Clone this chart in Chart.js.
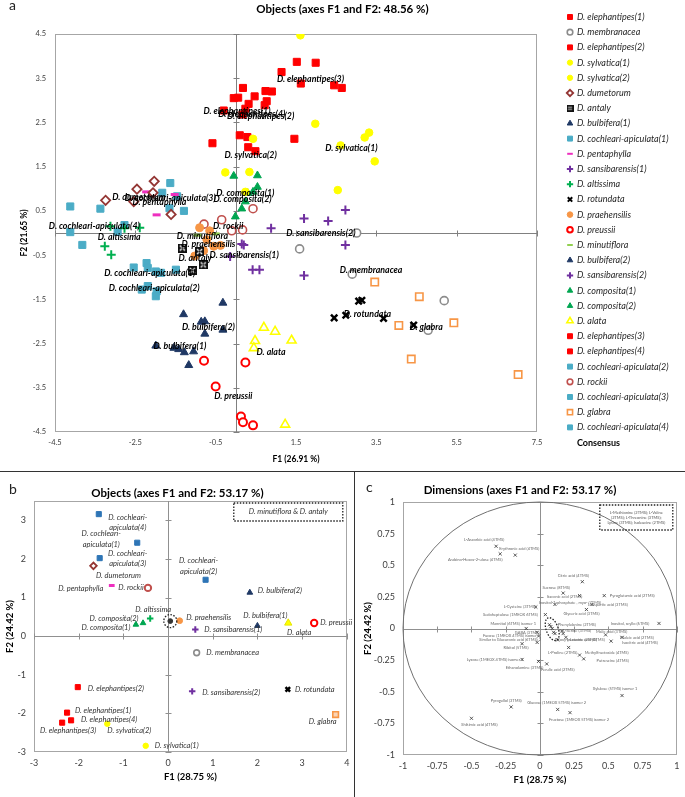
<!DOCTYPE html>
<html lang="en">
<head>
<meta charset="utf-8">
<title>Objects and dimensions, axes F1 and F2</title>
<script src="https://cdn.jsdelivr.net/npm/chart.js@4.4.1/dist/chart.umd.min.js"></script>
<style>
  html, body { margin: 0; padding: 0; background: #fff; }
  #page { position: relative; width: 685px; height: 797px; overflow: hidden; font-family: Lato, "Open Sans", sans-serif; }
  .panel { position: absolute; }
  .tag { position: absolute; font-size: 14px; color: #222; line-height: 16px; }
  .rule-h { position: absolute; left: 0; top: 471px; width: 685px; border-top: 1.5px solid #333; }
  .rule-v { position: absolute; left: 354px; top: 472px; height: 325px; border-left: 1.5px solid #333; }
</style>
</head>
<body>
<div id="page">
  <canvas id="chartA" class="panel" width="685" height="472" style="left:0;top:0"></canvas>
  <canvas id="chartB" class="panel" width="355" height="325" style="left:0;top:472px"></canvas>
  <canvas id="chartC" class="panel" width="330" height="325" style="left:355px;top:472px"></canvas>
  <div class="rule-h"></div>
  <div class="rule-v"></div>
  <div class="tag" style="left:9px;top:-3px">a</div>
  <div class="tag" style="left:9px;top:481px">b</div>
  <div class="tag" style="left:366px;top:479px">c</div>
</div>
<script>
(function () {
    "use strict";

    const FONT = 'Lato, "Open Sans", Arial, sans-serif';
    const H = Chart.helpers;

    // ---------- panel a: objects, axes F1 and F2 (48.56 %) ----------
    const aTicksF1 = [-4.5, -2.5, -0.5, 1.5, 3.5, 5.5, 7.5];
    const aTicksF2 = [-4.5, -3.5, -2.5, -1.5, -0.5, 0.5, 1.5, 2.5, 3.5, 4.5];

    const eleph1F1 = [-0.58, -0.30, -0.05, 0.06, 0.10, 0.24];
    const eleph1F2 = [2.03, 2.77, 3.05, 3.06, 2.21, 2.81];
    const membF1 = [3.01, 1.59, 2.90, 5.19, 4.79];
    const membF2 = [0.00, -0.36, -0.93, -1.53, -2.20];
    const eleph2F1 = [0.74, 0.90, 0.77, 0.72, 1.46, 0.49];
    const eleph2F2 = [3.21, 3.20, 2.98, 2.89, 2.13, 1.85];
    const sylv1F1 = [1.61, 1.98, 3.32, 3.21, 2.61, 3.46, 2.54];
    const sylv1F2 = [4.47, 2.47, 2.27, 2.16, 1.98, 1.62, 0.97];
    const sylv2F1 = [0.43, -0.26, 0.34, 0.24];
    const sylv2F2 = [2.13, 1.37, 1.38, 0.93];
    const dumetF1 = [-2.03, -2.46, -3.24, -2.06, -1.61, -2.54];
    const dumetF2 = [1.17, 0.99, 0.74, 0.91, 0.42, 0.71];
    const antalyF1 = [-1.33, -0.90, -0.81, -1.08];
    const antalyF2 = [-0.34, -0.42, -0.72, -0.85];
    const bulb1F1 = [-1.99, -1.54, -1.42, -1.28, -1.05, -1.17];
    const bulb1F2 = [-2.55, -2.60, -2.63, -2.70, -2.68, -2.99];
    const coch1F1 = [-2.54, -2.22, -2.19, -1.99, -1.86, -1.49];
    const coch1F2 = [-0.78, -0.68, -0.79, -0.87, -0.90, -0.83];
    const pentaF1 = [-2.23, -1.52, -1.97];
    const pentaF2 = [0.93, 0.87, 0.41];
    const sans1F1 = [0.15, 0.20, -0.14, 0.42, 0.59];
    const sans1F2 = [-0.25, -0.27, -0.53, -0.83, -0.83];
    const altisF1 = [-3.12, -2.77, -2.39, -3.26, -3.10];
    const altisF2 = [0.15, 0.11, 0.12, -0.30, -0.49];
    const rotunF1 = [3.06, 3.14, 2.45, 2.74, 3.68, 4.43];
    const rotunF2 = [-1.54, -1.52, -1.92, -1.86, -1.93, -2.08];
    const praehF1 = [-0.90, -0.65, -0.72, -0.55, -0.38, -1.02, -0.80];
    const praehF2 = [0.12, 0.05, -0.15, -0.30, -0.28, -0.52, -0.40];
    const preusF1 = [-0.79, 0.24, -0.50, 0.13, 0.18, 0.43];
    const preusF2 = [-2.89, -2.93, -3.47, -4.15, -4.28, -4.35];
    const minutF1 = [-0.95, -0.70, -0.50];
    const minutF2 = [-0.05, -0.12, -0.02];
    const bulb2F1 = [-0.32, -1.30, -0.86, -0.77, -0.77, -0.32];
    const bulb2F2 = [-1.58, -1.84, -2.01, -2.00, -2.28, -2.19];
    const sans2F1 = [2.73, 1.70, 2.30, 2.73, 1.70, 0.88];
    const sans2F2 = [0.52, 0.33, 0.27, -0.27, -0.96, 0.11];
    const comp1F1 = [-0.05, 0.54, 0.54, 0.43];
    const comp1F2 = [1.29, 1.30, 1.04, 0.93];
    const comp2F1 = [-0.01, 0.24, 0.30, 0.15];
    const comp2F2 = [0.37, 0.71, 0.90, 0.55];
    const alataF1 = [0.70, 0.98, 1.39, 0.48, 0.45, 1.23];
    const alataF2 = [-2.14, -2.23, -2.43, -2.44, -2.60, -4.33];
    const eleph3F1 = [1.52, 1.99, 1.14, 1.62, 2.45, 2.64];
    const eleph3F2 = [3.87, 3.85, 3.64, 3.38, 3.34, 3.28];
    const eleph4F1 = [0.18, 0.32, 0.17, 0.29, 0.31, 0.47];
    const eleph4F2 = [3.28, 2.92, 2.68, 2.17, 1.94, 3.09];
    const coch2F1 = [-2.19, -2.34, -1.97, -1.99];
    const coch2F2 = [-1.20, -1.28, -1.32, -1.43];
    const rockiF1 = [-0.79, -0.35, 0.43, -0.10, 0.17];
    const rockiF2 = [0.20, 0.30, 0.55, 0.05, 0.07];
    const coch3F1 = [-1.63, -1.83, -1.46, -1.65, -1.29];
    const coch3F2 = [1.13, 0.91, 0.83, 0.56, 0.50];
    const glabrF1 = [3.46, 4.57, 4.06, 5.43, 4.37, 7.03];
    const glabrF2 = [-1.11, -1.44, -2.09, -2.03, -2.85, -3.20];
    const coch4F1 = [-4.12, -3.37, -2.77, -2.94, -4.12, -3.82];
    const coch4F2 = [0.60, 0.55, 0.18, 0.03, 0.02, -0.27];

    // legend order
    const aNames = [
        "D. elephantipes(1)", "D. membranacea", "D. elephantipes(2)", "D. sylvatica(1)",
        "D. sylvatica(2)", "D. dumetorum", "D. antaly", "D. bulbifera(1)",
        "D. cochleari-apiculata(1)", "D. pentaphylla", "D. sansibarensis(1)", "D. altissima",
        "D. rotundata", "D. praehensilis", "D. preussii", "D. minutiflora",
        "D. bulbifera(2)", "D. sansibarensis(2)", "D. composita(1)", "D. composita(2)",
        "D. alata", "D. elephantipes(3)", "D. elephantipes(4)", "D. cochleari-apiculata(2)",
        "D. rockii", "D. cochleari-apiculata(3)", "D. glabra", "D. cochleari-apiculata(4)"
    ];
    const aScores = [
        [eleph1F1, eleph1F2], [membF1, membF2], [eleph2F1, eleph2F2], [sylv1F1, sylv1F2],
        [sylv2F1, sylv2F2], [dumetF1, dumetF2], [antalyF1, antalyF2], [bulb1F1, bulb1F2],
        [coch1F1, coch1F2], [pentaF1, pentaF2], [sans1F1, sans1F2], [altisF1, altisF2],
        [rotunF1, rotunF2], [praehF1, praehF2], [preusF1, preusF2], [minutF1, minutF2],
        [bulb2F1, bulb2F2], [sans2F1, sans2F2], [comp1F1, comp1F2], [comp2F1, comp2F2],
        [alataF1, alataF2], [eleph3F1, eleph3F2], [eleph4F1, eleph4F2], [coch2F1, coch2F2],
        [rockiF1, rockiF2], [coch3F1, coch3F2], [glabrF1, glabrF2], [coch4F1, coch4F2]
    ];

    // consensus positions (drawn as labels only)
    const consNames = [
        "D. elephantipes(3)", "D. elephantipes(1)", "D. elephantipes(4)", "D. elephantipes(2)",
        "D. sylvatica(1)", "D. sylvatica(2)", "D. composita(1)", "D. composita(2)",
        "D. cochleari-apiculata(3)", "D. dumetorum", "D. pentaphylla", "D. cochleari-apiculata(4)",
        "D. altissima", "D. rockii", "D. minutiflora", "D. praehensilis", "D. antaly",
        "D. sansibarensis(1)", "D. sansibarensis(2)", "D. cochleari-apiculata(1)",
        "D. cochleari-apiculata(2)", "D. membranacea", "D. rotundata", "D. glabra",
        "D. bulbifera(2)", "D. bulbifera(1)", "D. alata", "D. preussii"
    ];
    const consF1 = [1.86, 0.03, 0.40, 0.62, 2.88, 0.37, 0.24, 0.17, -1.63, -2.41, -1.90, -3.52,
        -2.90, -0.19, -0.83, -0.68, -1.01, 0.21, 2.12, -2.14, -2.03, 3.37, 3.28, 4.74,
        -0.68, -1.39, 0.88, -0.06];
    const consF2 = [3.49, 2.76, 2.68, 2.64, 1.91, 1.75, 0.91, 0.76, 0.79, 0.81, 0.70, 0.15,
        -0.10, 0.15, -0.08, -0.25, -0.58, -0.49, -0.01, -0.90, -1.24, -0.85, -1.83, -2.13,
        -2.13, -2.55, -2.70, -3.70];

    // ---------- panel b: objects, axes F1 and F2 (53.17 %) ----------
    const bTicksF1 = [-3, -2, -1, 0, 1, 2, 3, 4];
    const bTicksF2 = [-3, -2, -1, 0, 1, 2, 3];
    const bNames = [
        "D. cochleari-apiculata(4)", "D. cochleari-apiculata(1)", "D. cochleari-apiculata(3)",
        "D. dumetorum", "D. pentaphylla", "D. rockii", "D. cochleari-apiculata(2)",
        "D. bulbifera(2)", "D. altissima", "D. composita(2)", "D. composita(1)",
        "D. minutiflora & D. antaly", "D. praehensilis", "D. sansibarensis(1)",
        "D. bulbifera(1)", "D. alata", "D. preussii", "D. membranacea", "D. elephantipes(2)",
        "D. sansibarensis(2)", "D. rotundata", "D. elephantipes(1)", "D. elephantipes(4)",
        "D. elephantipes(3)", "D. sylvatica(2)", "D. glabra", "D. sylvatica(1)"
    ];
    const bF1 = [-1.55, -0.69, -1.53, -1.67, -1.26, -0.45, 0.84, 1.83, -0.40, -0.56, -0.72,
        0.05, 0.26, 0.61, 2.00, 2.69, 3.27, 0.64, -2.02, 0.54, 2.68, -2.26, -2.17, -2.37,
        -1.36, 3.75, -0.50];
    const bF2 = [3.16, 2.42, 2.02, 1.82, 1.31, 1.25, 1.46, 1.13, 0.46, 0.34, 0.30,
        0.39, 0.40, 0.17, 0.27, 0.34, 0.34, -0.43, -1.32, -1.43, -1.38, -1.98, -2.18, -2.24,
        -2.27, -2.03, -2.84];

    // ---------- panel c: dimensions (variable loadings) ----------
    const cTicks = [-1, -0.75, -0.5, -0.25, 0, 0.25, 0.5, 0.75, 1];
    const cNames = [
        "L-Ascorbic acid (4TMS)", "Erythronic acid (4TMS)", "Arabino-Hexos-2-ulose (4TMS)",
        "Citric acid (4TMS)", "Sucrose (8TMS)", "Itaconic acid (2TMS)", "Pyroglutamic acid (2TMS)",
        "Inositol-1-phosphate , myo- (7TMS)", "L-Aspartic acid (3TMS)", "Glyceric acid (3TMS)",
        "L-Cysteine (3TMS)", "Sedoheptulose (1MEOX 6TMS)", "Inositol, scyllo (6TMS)",
        "Mannitol (6TMS) isomer 1", "Phenylalanine (2TMS)", "L-Serine (3TMS)", "L-Leucine (2TMS)",
        "Malic acid (3TMS)", "Maleic acid (2TMS)", "Isocitric acid (4TMS)",
        "Deoxy-pentonic acid (4TMS)", "GABA (3TMS)", "Fucose (1MEOX 4TMS) isomer 1",
        "Similar to Glucuronic acid (6TMS) 2", "Ribitol (5TMS)", "L-Proline (2TMS)",
        "Methylfructoside (4TMS)", "Putrescine (4TMS)", "Lyxose (1MEOX 4TMS) isomer 1",
        "Ethanolamine (3TMS)", "Ferulic acid (2TMS)", "Xylulose (5TMS) isomer 1",
        "Pyrogallol (3TMS)", "Glucose (1MEOX 5TMS) isomer 2", "Fructose (1MEOX 5TMS) isomer 2",
        "Shikimic acid (4TMS)",
        "L-Methionine (2TMS)", "L-Valine (2TMS)", "L-Threonine (3TMS)", "Lysine (3TMS)",
        "Isoleucine (2TMS)"
    ];
    const cF1 = [-0.32, -0.18, -0.29, 0.31, 0.17, 0.29, 0.47, 0.11, 0.38, 0.34, -0.03, 0.04,
        0.87, -0.10, 0.16, 0.17, 0.19, 0.48, 0.60, 0.52, 0.13, -0.02, -0.01, -0.02, -0.13,
        0.21, 0.29, 0.32, -0.13, -0.01, 0.05, 0.60, -0.21, 0.13, 0.22, -0.50,
        0.07, 0.09, 0.10, 0.08, 0.11];
    const cF2 = [0.65, 0.58, 0.59, 0.37, 0.28, 0.26, 0.26, 0.19, 0.19, 0.15, 0.17, 0.11,
        0.04, 0.00, -0.02, -0.04, -0.07, -0.05, -0.07, -0.10, -0.09, -0.03, -0.06, -0.11, -0.12,
        -0.15, -0.21, -0.24, -0.245, -0.26, -0.28, -0.53, -0.62, -0.64, -0.665, -0.71,
        0.03, 0.00, -0.03, 0.015, -0.04];
    const cBoxed = ["L-Methionine (2TMS)", "L-Valine (2TMS)", "L-Threonine (3TMS)", "Lysine (3TMS)", "Isoleucine (2TMS)"];

    // ---------- marker styles ----------
    function antalyMark(size) {
        const c = document.createElement("canvas");
        c.width = c.height = size;
        const g = c.getContext("2d");
        g.fillStyle = "#111";
        g.fillRect(0, 0, size, size);
        g.strokeStyle = "#fff";
        g.lineWidth = 1.4;
        g.beginPath();
        g.moveTo(2, 2); g.lineTo(size - 2, size - 2);
        g.moveTo(size - 2, 2); g.lineTo(2, size - 2);
        g.stroke();
        g.fillStyle = "#111";
        g.fillRect(size / 2 - 1, size / 2 - 1, 2, 2);
        return c;
    }
    const ANTALY = antalyMark(9);
    const ANTALY_SMALL = antalyMark(7);

    // shape, fill, border, border width, radius (panel a)
    const shapes = {
        "D. elephantipes": ["rect", "#ff0000", "#ff0000", 1, 5],
        "D. membranacea": ["circle", "#ffffff", "#8c8c8c", 1.6, 4],
        "D. sylvatica": ["circle", "#ffff00", "#ffff00", 1, 3.8],
        "D. dumetorum": ["rectRot", "#ffffff", "#943634", 1.8, 4.6],
        "D. antaly": [ANTALY, "#111", "#111", 1, 4.5],
        "D. bulbifera": ["triangle", "#1f3864", "#1f3864", 1, 4.6],
        "D. cochleari-apiculata": ["rect", "#4bacc6", "#4bacc6", 1, 5],
        "D. pentaphylla": ["line", "#ee2fbf", "#ee2fbf", 3, 4],
        "D. sansibarensis": ["cross", "#7030a0", "#7030a0", 2, 4.5],
        "D. altissima": ["cross", "#00b050", "#00b050", 2, 4.5],
        "D. rotundata": ["crossRot", "#000000", "#000000", 2.5, 4.5],
        "D. praehensilis": ["circle", "#f79646", "#f79646", 1, 4],
        "D. preussii": ["circle", "#ffffff", "#ff0000", 2, 4],
        "D. minutiflora": ["line", "#92d050", "#92d050", 3, 4],
        "D. composita": ["triangle", "#00a651", "#00a651", 1, 4.5],
        "D. alata": ["triangle", "#ffffff", "#ffff00", 1.6, 5.2],
        "D. rockii": ["circle", "#ffffff", "#c0504d", 1.6, 4],
        "D. glabra": ["rect", "#ffffff", "#f79646", 1.6, 5.2]
    };
    const baseName = n => n.replace(/\(\d\)$/, "");

    // ---------- plugins ----------
    const crossAxes = {
        id: "crossAxes",
        beforeDatasetsDraw(chart, args, o) {
            const { ctx, chartArea: a, scales } = chart;
            const sx = scales.x, sy = scales.y;
            ctx.save();
            ctx.lineWidth = 1;
            ctx.strokeStyle = o.frame;
            ctx.strokeRect(Math.round(a.left) + 0.5, Math.round(a.top) + 0.5, Math.round(a.width) - 1, Math.round(a.height) - 1);
            const x0 = Math.round(sx.getPixelForValue(0)) + 0.5;
            const y0 = Math.round(sy.getPixelForValue(0)) + 0.5;
            ctx.strokeStyle = o.axis;
            ctx.beginPath();
            ctx.moveTo(x0, a.top); ctx.lineTo(x0, a.bottom);
            ctx.moveTo(a.left, y0); ctx.lineTo(a.right, y0);
            sy.ticks.forEach(t => {
                const p = Math.round(sy.getPixelForValue(t.value)) + 0.5;
                ctx.moveTo(x0 - o.tick, p); ctx.lineTo(x0 + o.tick, p);
            });
            sx.ticks.forEach(t => {
                const p = Math.round(sx.getPixelForValue(t.value)) + 0.5;
                ctx.moveTo(p, y0 - o.tick); ctx.lineTo(p, y0 + o.tick);
            });
            ctx.stroke();
            if (o.unitCircle) {
                ctx.strokeStyle = o.circle;
                ctx.beginPath();
                ctx.ellipse(sx.getPixelForValue(0), sy.getPixelForValue(0),
                    sx.getPixelForValue(1) - sx.getPixelForValue(0),
                    sy.getPixelForValue(0) - sy.getPixelForValue(1), 0, 0, Math.PI * 2);
                ctx.stroke();
            }
            ctx.restore();
        }
    };

    const markLabels = {
        id: "markLabels",
        afterDatasetsDraw(chart, args, o) {
            const { ctx } = chart;
            ctx.save();
            ctx.font = o.font;
            ctx.fillStyle = o.color;
            ctx.textAlign = "center";
            ctx.textBaseline = "middle";
            chart.data.datasets.forEach((ds, i) => {
                if (!ds.markNames) return;
                chart.getDatasetMeta(i).data.forEach((pt, j) => {
                    const name = ds.markNames[j];
                    if (o.skip && o.skip.includes(name)) return;
                    const off = (o.offsets && o.offsets[name]) || [0, 0];
                    const lines = o.wrap ? o.wrap(name) : [name];
                    lines.forEach((ln, k) => ctx.fillText(ln, pt.x + off[0], pt.y + off[1] + k * (o.lineGap || 0)));
                });
            });
            ctx.restore();
        }
    };

    const sideLegend = {
        id: "sideLegend",
        afterDraw(chart, args, o) {
            const { ctx } = chart;
            ctx.save();
            ctx.textBaseline = "middle";
            ctx.textAlign = "left";
            chart.data.datasets.forEach((ds, i) => {
                const y = o.top + i * o.step;
                if (ds.pointRadius > 0) {
                    ctx.fillStyle = ds.pointBackgroundColor;
                    ctx.strokeStyle = ds.pointBorderColor;
                    ctx.lineWidth = Math.min(ds.pointBorderWidth, 2);
                    const st = ds.pointStyle === ANTALY ? ANTALY_SMALL : ds.pointStyle;
                    H.drawPoint(ctx, { pointStyle: st, radius: ds.pointRadius * 0.7, borderWidth: ds.pointBorderWidth, rotation: 0 }, o.x, y);
                    ctx.font = o.font;
                    ctx.fillStyle = o.color;
                    ctx.fillText(ds.label, o.x + o.gap, y);
                } else {
                    ctx.font = o.boldFont;
                    ctx.fillStyle = "#000";
                    ctx.fillText(ds.label, o.x + o.gap, y);
                }
            });
            ctx.restore();
        }
    };

    // dotted call-outs (ring around a mark, boxed note in a corner)
    const callouts = {
        id: "callouts",
        afterDatasetsDraw(chart, args, o) {
            const { ctx, chartArea: a, scales } = chart;
            ctx.save();
            ctx.strokeStyle = "#222";
            ctx.lineWidth = 1.3;
            ctx.setLineDash([1.5, 1.5]);
            if (o.ring) {
                const cx = scales.x.getPixelForValue(o.ring.x), cy = scales.y.getPixelForValue(o.ring.y);
                ctx.beginPath();
                ctx.ellipse(cx, cy, o.ring.rx, o.ring.ry, o.ring.rot || 0, 0, Math.PI * 2);
                ctx.stroke();
            }
            const bx = a.right - o.box.right - o.box.w, by = a.top + o.box.top;
            ctx.strokeRect(bx, by, o.box.w, o.box.h);
            ctx.setLineDash([]);
            ctx.fillStyle = o.box.color;
            ctx.font = o.box.font;
            ctx.textAlign = "center";
            ctx.textBaseline = "middle";
            o.box.lines.forEach((ln, k) => {
                ctx.fillText(ln, bx + o.box.w / 2, by + o.box.h / 2 + (k - (o.box.lines.length - 1) / 2) * o.box.gap);
            });
            ctx.restore();
        }
    };

    function axis(c) {
        return {
            type: "linear",
            position: c.position,
            min: c.min,
            max: c.max,
            grid: { display: false, drawTicks: false },
            border: { display: false },
            ticks: {
                color: "#404040", font: { family: FONT, size: c.tickSize }, padding: c.tickPad, maxRotation: 0,
                callback: v => String(v)
            },
            title: { display: true, text: c.title, color: "#000", font: { family: FONT, size: c.titleSize, weight: "bold" }, padding: c.titlePad },
            afterBuildTicks: s => { s.ticks = c.ticks.map(v => ({ value: v })); },
            afterFit: s => { if (s.isHorizontal()) s.height = c.size; else s.width = c.size; }
        };
    }
    function spacer(w) {
        return {
            axis: "y", position: "right", display: true,
            ticks: { display: false }, grid: { display: false, drawTicks: false }, border: { display: false },
            afterFit: s => { s.width = w; }
        };
    }
    const common = { responsive: false, animation: false, events: [] };

    // ---------- chart a ----------
    const aDatasets = aNames.map((name, i) => {
        const s = shapes[baseName(name)];
        return {
            label: name,
            data: aScores[i][0].map((v, k) => ({ x: v, y: aScores[i][1][k] })),
            pointStyle: s[0], pointBackgroundColor: s[1], pointBorderColor: s[2],
            pointBorderWidth: s[3], pointRadius: s[4]
        };
    });
    aDatasets.push({
        label: "Consensus",
        data: consF1.map((v, k) => ({ x: v, y: consF2[k] })),
        pointRadius: 0,
        markNames: consNames
    });

    new Chart(document.getElementById("chartA"), {
        type: "scatter",
        data: { datasets: aDatasets },
        options: Object.assign({}, common, {
            layout: { padding: 0 },
            plugins: {
                legend: { display: false },
                tooltip: { enabled: false },
                title: {
                    display: true, text: "Objects (axes F1 and F2: 48.56 %)", color: "#000",
                    font: { family: FONT, size: 11.5, weight: "bold" }, padding: { top: 2, bottom: 18.2 }
                },
                crossAxes: { frame: "#a6a6a6", axis: "#808080", tick: 3 },
                markLabels: { font: "italic bold 8.8px " + FONT, color: "#000" },
                sideLegend: { x: 570, top: 17, step: 15.2, gap: 7, font: "italic 9px " + FONT, boldFont: "bold 9px " + FONT, color: "#262626" }
            },
            scales: {
                x: axis({ position: "bottom", min: -4.5, max: 7.5, ticks: aTicksF1, tickSize: 7.5, tickPad: 6,
                    title: "F1 (26.91 %)", titleSize: 8.5, titlePad: { top: 0, bottom: 7.5 }, size: 40 }),
                y: axis({ position: "left", min: -4.5, max: 4.5, ticks: aTicksF2, tickSize: 7.5, tickPad: 9,
                    title: "F2 (21.65 %)", titleSize: 8.5, titlePad: { top: 19, bottom: 0 }, size: 55 }),
                pad: spacer(148)
            }
        }),
        plugins: [crossAxes, markLabels, sideLegend]
    });

    // ---------- chart b ----------
    const bStyle = name => {
        if (name === "D. minutiflora & D. antaly") return ["circle", "#333333", "#333333", 1, 2.4];
        const s = shapes[baseName(name)].slice();
        s[4] = s[4] * 0.72;
        if (baseName(name) === "D. cochleari-apiculata") { s[1] = s[2] = "#2e75b6"; }
        if (baseName(name) === "D. alata") { s[1] = "#ffff00"; s[2] = "#e6e600"; s[4] = 4.2; s[3] = 1; }
        if (baseName(name) === "D. glabra") { s[1] = "#fbd4b4"; s[4] = 4; }
        if (baseName(name) === "D. preussii") { s[3] = 2; s[4] = 3.2; }
        if (baseName(name) === "D. rockii") { s[3] = 2; s[4] = 3.2; }
        return s;
    };
    const bStyles = bNames.map(bStyle);
    const bLabelOffsets = {
        "D. cochleari-apiculata(4)": [29, 3], "D. cochleari-apiculata(1)": [-36, -9],
        "D. cochleari-apiculata(3)": [28, -5], "D. cochleari-apiculata(2)": [-7, -19],
        "D. dumetorum": [25, 10], "D. pentaphylla": [-31, 3], "D. rockii": [-17, 0],
        "D. bulbifera(2)": [30, -2], "D. altissima": [3, -9], "D. composita(2)": [-29, -4],
        "D. composita(1)": [-30, 3], "D. praehensilis": [29, -3], "D. sansibarensis(1)": [38, 0],
        "D. bulbifera(1)": [8, -10], "D. alata": [11, 10], "D. preussii": [22, 0],
        "D. membranacea": [36, 0], "D. elephantipes(2)": [38, 1], "D. sansibarensis(2)": [39, 1],
        "D. rotundata": [27, 0], "D. elephantipes(1)": [36, -2], "D. elephantipes(4)": [38, -1],
        "D. elephantipes(3)": [6, 8], "D. sylvatica(2)": [22, 7], "D. glabra": [-13, 7],
        "D. sylvatica(1)": [31, 0]
    };

    new Chart(document.getElementById("chartB"), {
        type: "scatter",
        data: {
            datasets: [{
                label: "Objects",
                data: bF1.map((v, k) => ({ x: v, y: bF2[k] })),
                markNames: bNames,
                pointStyle: bStyles.map(s => s[0]),
                pointBackgroundColor: bStyles.map(s => s[1]),
                pointBorderColor: bStyles.map(s => s[2]),
                pointBorderWidth: bStyles.map(s => s[3]),
                pointRadius: bStyles.map(s => s[4])
            }]
        },
        options: Object.assign({}, common, {
            layout: { padding: 0 },
            plugins: {
                legend: { display: false },
                tooltip: { enabled: false },
                title: {
                    display: true, text: "Objects (axes F1 and F2: 53.17 %)", color: "#000",
                    font: { family: FONT, size: 11.5, weight: "bold" }, padding: { top: 14, bottom: 1.2 }
                },
                crossAxes: { frame: "#a6a6a6", axis: "#909090", tick: 3 },
                markLabels: {
                    font: "italic 7.5px " + FONT, color: "#333", offsets: bLabelOffsets, lineGap: 10.5,
                    skip: ["D. minutiflora & D. antaly"],
                    wrap: n => n.indexOf("cochleari-") > 0 ? ["D. cochleari-", n.slice(13)] : [n]
                },
                callouts: {
                    ring: { x: 0.05, y: 0.39, rx: 6.5, ry: 6.5 },
                    box: { right: 4, top: 2, w: 109, h: 18, lines: ["D. minutiflora & D. antaly"], gap: 9,
                        font: "italic 7.5px " + FONT, color: "#333" }
                }
            },
            scales: {
                x: axis({ position: "bottom", min: -3, max: 4, ticks: bTicksF1, tickSize: 9, tickPad: 5.6,
                    title: "F1 (28.75 %)", titleSize: 9.5, titlePad: { top: 0, bottom: 14 }, size: 45 }),
                y: axis({ position: "left", min: -3, max: 3.5, ticks: bTicksF2, tickSize: 9, tickPad: 8,
                    title: "F2 (24.42 %)", titleSize: 9.5, titlePad: { top: 4, bottom: 0 }, size: 34 }),
                pad: spacer(8)
            }
        }),
        plugins: [crossAxes, markLabels, callouts]
    });

    // ---------- chart c ----------
    const cLabelOffsets = {
        "L-Ascorbic acid (4TMS)": [-12, -7], "Erythronic acid (4TMS)": [4, -6],
        "Arabino-Hexos-2-ulose (4TMS)": [-25, 6], "Citric acid (4TMS)": [-9, -6],
        "Sucrose (8TMS)": [-7, -5], "Itaconic acid (2TMS)": [-15, 1],
        "Pyroglutamic acid (2TMS)": [28, 0], "Inositol-1-phosphate , myo- (7TMS)": [15, -2],
        "L-Aspartic acid (3TMS)": [16, 0], "Glyceric acid (3TMS)": [-5, 4],
        "L-Cysteine (3TMS)": [-16, 0], "Sedoheptulose (1MEOX 6TMS)": [-35, 0],
        "Inositol, scyllo (6TMS)": [-29, 0], "Mannitol (6TMS) isomer 1": [-13, -5],
        "Phenylalanine (2TMS)": [15, -6], "L-Serine (3TMS)": [14, -3], "L-Leucine (2TMS)": [16, 2],
        "Malic acid (3TMS)": [6, -3], "Maleic acid (2TMS)": [15, 0], "Isocitric acid (4TMS)": [29, 2],
        "Deoxy-pentonic acid (4TMS)": [22, 0], "GABA (3TMS)": [-10, 0],
        "Fucose (1MEOX 4TMS) isomer 1": [-27, 0], "Similar to Glucuronic acid (6TMS) 2": [-27, -3],
        "Ribitol (5TMS)": [-6, 4], "L-Proline (2TMS)": [-6, 5], "Methylfructoside (4TMS)": [27, -2],
        "Putrescine (4TMS)": [29, 2], "Lyxose (1MEOX 4TMS) isomer 1": [-27, 0],
        "Ethanolamine (3TMS)": [-14, 6], "Ferulic acid (2TMS)": [11, 6],
        "Xylulose (5TMS) isomer 1": [-7, -7], "Pyrogallol (3TMS)": [-5, -6],
        "Glucose (1MEOX 5TMS) isomer 2": [-1, -7], "Fructose (1MEOX 5TMS) isomer 2": [9, 7],
        "Shikimic acid (4TMS)": [8, 6]
    };

    new Chart(document.getElementById("chartC"), {
        type: "scatter",
        data: {
            datasets: [{
                label: "Dimensions",
                data: cF1.map((v, k) => ({ x: v, y: cF2[k] })),
                markNames: cNames,
                pointStyle: "crossRot",
                pointRadius: 2.2,
                pointBorderWidth: 0.8,
                pointBorderColor: "#333",
                pointBackgroundColor: "#333"
            }]
        },
        options: Object.assign({}, common, {
            layout: { padding: 0 },
            plugins: {
                legend: { display: false },
                tooltip: { enabled: false },
                title: {
                    display: true, text: "Dimensions (axes F1 and F2: 53.17 %)", color: "#000",
                    font: { family: FONT, size: 11.5, weight: "bold" }, padding: { top: 11, bottom: 5.2 }
                },
                crossAxes: { frame: "#a6a6a6", axis: "#909090", tick: 3, unitCircle: true, circle: "#707070" },
                markLabels: { font: "4px " + FONT, color: "#666", offsets: cLabelOffsets, skip: cBoxed },
                callouts: {
                    ring: { x: 0.09, y: -0.005, rx: 6, ry: 12, rot: -0.35 },
                    box: { right: 4, top: 3, w: 73, h: 25,
                        lines: ["L-Methionine (2TMS); L-Valine", "(2TMS); L-Threonine (3TMS);", "Lysine (3TMS); Isoleucine (2TMS)"],
                        gap: 5, font: "4px " + FONT, color: "#555" }
                }
            },
            scales: {
                x: axis({ position: "bottom", min: -1, max: 1, ticks: cTicks, tickSize: 9, tickPad: 5.6,
                    title: "F1 (28.75 %)", titleSize: 9.5, titlePad: { top: 0, bottom: 11 }, size: 42 }),
                y: axis({ position: "left", min: -1, max: 1, ticks: cTicks, tickSize: 9, tickPad: 8,
                    title: "F2 (24.42 %)", titleSize: 9.5, titlePad: { top: 7, bottom: 0 }, size: 48 }),
                pad: spacer(8)
            }
        }),
        plugins: [crossAxes, markLabels, callouts]
    });
})();
</script>
</body>
</html>
